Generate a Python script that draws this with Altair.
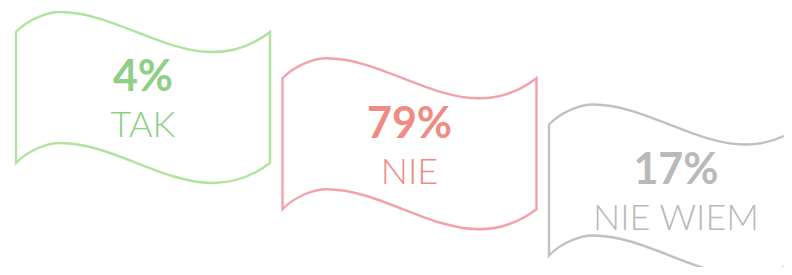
import altair as alt
import pandas as pd

categories = ["TAK", "NIE", "NIE WIEM"]
values = [4, 79, 17]
text_colors = ["#8dcf85", "#f08b83", "#b9b9b9"]
flag_colors = ["#b2e39c", "#f3a1aa", "#c0c0c0"]

df = pd.DataFrame({
    "cat": categories,
    "value": values,
    "idx": list(range(len(categories))),
    "tc": text_colors,
    "fc": flag_colors,
})
df["pct"] = df["value"].astype(str) + "%"

# wavy flag outline (symbol shape in unit coordinates)
FLAG = (
    "M -1 -0.516 "
    "C -0.9 -0.62 -0.75 -0.673 -0.654 -0.673 "
    "C -0.25 -0.673 0.15 -0.358 0.551 -0.358 "
    "C 0.75 -0.358 0.9 -0.44 1 -0.516 "
    "L 1 0.516 "
    "C 0.9 0.591 0.75 0.673 0.551 0.673 "
    "C 0.15 0.673 -0.25 0.358 -0.654 0.358 "
    "C -0.75 0.358 -0.9 0.411 -1 0.516 Z"
)

x = alt.X("idx:Q", scale=alt.Scale(domain=[-0.5066, 2.4053], nice=False, zero=False), axis=None)
y = alt.Y("idx:Q", scale=alt.Scale(domain=[-1.935, 3.665], reverse=True, nice=False, zero=False), axis=None)

base = alt.Chart(df)

flags = base.mark_point(shape=FLAG, size=64516, strokeWidth=2.4, filled=False, opacity=1).encode(
    x=x, y=y, stroke=alt.Stroke("fc:N", scale=None)
)

pct = base.mark_text(font="Lato", fontSize=43, fontWeight="bold", dy=-19, baseline="middle", align="center").encode(
    x=x, y=y, text="pct:N", color=alt.Color("tc:N", scale=None)
)

lab = base.mark_text(font="Lato", fontSize=36, fontWeight=300, dy=29, baseline="middle", align="center").encode(
    x=x, y=y, text="cat:N", color=alt.Color("tc:N", scale=None)
)

chart = alt.layer(flags, pct, lab).properties(
    width=776, height=259, padding=0, autosize=alt.AutoSizeParams(type="none")
).configure_view(stroke=None)

chart.save("out.html", embed_options={"renderer": "svg", "actions": False})
